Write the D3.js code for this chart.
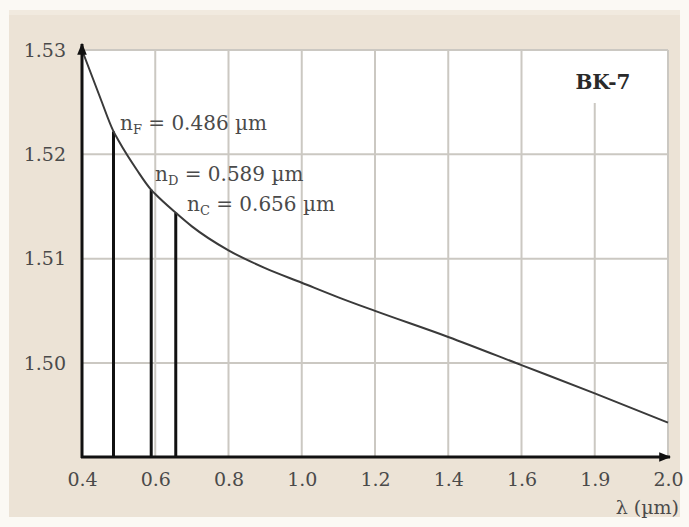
<!DOCTYPE html>
<html>
<head>
<meta charset="utf-8">
<script src="https://cdn.jsdelivr.net/npm/d3@7"></script>
<style>
  html, body { margin: 0; padding: 0; background: #fbf9f4; }
  svg { display: block; }
</style>
</head>
<body>
<svg id="chart" width="689" height="527"></svg>
<script>
// ---- data ----
const wavelengths = [0.40, 0.45, 0.486, 0.50, 0.55, 0.589, 0.60, 0.656, 0.70, 0.80, 0.90, 1.00, 1.10, 1.20, 1.40, 1.60, 1.80, 2.00];
const indices     = [1.5300, 1.5254, 1.5222, 1.5213, 1.5185, 1.5166, 1.5162, 1.5144, 1.5131, 1.5108, 1.5091, 1.5077, 1.5063, 1.5050, 1.5025, 1.4998, 1.4971, 1.4943];

const lineNames   = ["F", "D", "C"];
const lineLambdas = [0.486, 0.589, 0.656];
const lineIndices = [1.5222, 1.5166, 1.5144];
const lineLabels  = ["0.486", "0.589", "0.656"];

const xTickValues = [0.4, 0.6, 0.8, 1.0, 1.2, 1.4, 1.6, 1.8, 2.0];
const xTickLabels = ["0.4", "0.6", "0.8", "1.0", "1.2", "1.4", "1.6", "1.9", "2.0"];
const yTickValues = [1.50, 1.51, 1.52, 1.53];
const yTickLabels = ["1.50", "1.51", "1.52", "1.53"];

// ---- layout ----
const svg = d3.select("#chart");
const L = 82, R = 668, T = 50, B = 457;
const x = d3.scaleLinear().domain([0.4, 2.0]).range([L, R]);
const y = d3.scaleLinear().domain([1.491, 1.53]).range([B, T]);

const serif = "'DejaVu Serif', serif";
const textCol = "#4a4a4a";

// outer panel
svg.append("rect").attr("x", 9).attr("y", 10).attr("width", 671).attr("height", 507)
  .attr("fill", "#ece3d6");
svg.append("rect").attr("x", 9).attr("y", 10).attr("width", 671).attr("height", 5)
  .attr("fill", "#f1eadf");

// plot area
svg.append("rect").attr("x", L).attr("y", T).attr("width", R - L).attr("height", B - T)
  .attr("fill", "#ffffff");

// grid
const grid = svg.append("g").attr("stroke", "#cbc8c2").attr("stroke-width", 2);
grid.selectAll("line.v").data(xTickValues.slice(1)).join("line")
  .attr("x1", d => x(d)).attr("x2", d => x(d)).attr("y1", T).attr("y2", B);
grid.selectAll("line.h").data(yTickValues).join("line")
  .attr("x1", L).attr("x2", R).attr("y1", d => y(d)).attr("y2", d => y(d));

// white box behind BK-7
svg.append("rect").attr("x", 556).attr("y", T + 1).attr("width", 86).attr("height", 52)
  .attr("fill", "#ffffff");
svg.append("text").attr("x", 603).attr("y", 89).attr("text-anchor", "middle")
  .attr("font-family", serif).attr("font-weight", "bold").attr("font-size", 20)
  .attr("fill", "#2a2a2a").text("BK-7");

// vertical Fraunhofer lines
svg.append("g").selectAll("line").data(lineLambdas).join("line")
  .attr("x1", d => x(d)).attr("x2", d => x(d))
  .attr("y1", B).attr("y2", (d, i) => y(lineIndices[i]))
  .attr("stroke", "#111").attr("stroke-width", 3);

// curve
const pts = wavelengths.map((w, i) => [w, indices[i]]);
svg.append("path").datum(pts)
  .attr("d", d3.line().x(d => x(d[0])).y(d => y(d[1])).curve(d3.curveMonotoneX))
  .attr("fill", "none").attr("stroke", "#3a3a3a").attr("stroke-width", 2);

// annotations
const annPos = [[120, 130], [155, 181], [187, 211]];
lineNames.forEach((nm, i) => {
  const t = svg.append("text").attr("x", annPos[i][0]).attr("y", annPos[i][1])
    .attr("font-family", serif).attr("font-size", 20).attr("fill", textCol);
  t.append("tspan").text("n");
  t.append("tspan").attr("font-size", 13).attr("dy", 4).text(nm);
  t.append("tspan").attr("dy", -4).text(" = " + lineLabels[i] + " µm");
});

// axes lines with arrows
const defs = svg.append("defs");
defs.append("marker").attr("id", "arr").attr("viewBox", "0 0 10 10")
  .attr("refX", 9).attr("refY", 5).attr("markerWidth", 4).attr("markerHeight", 4)
  .attr("orient", "auto").attr("markerUnits", "strokeWidth")
  .append("path").attr("d", "M0,1 L10,5 L0,9 Z").attr("fill", "#111");

svg.append("line").attr("x1", L).attr("x2", L).attr("y1", B + 1).attr("y2", T - 6)
  .attr("stroke", "#111").attr("stroke-width", 3).attr("marker-end", "url(#arr)");
svg.append("line").attr("x1", L - 1).attr("x2", R + 2).attr("y1", B).attr("y2", B)
  .attr("stroke", "#111").attr("stroke-width", 3).attr("marker-end", "url(#arr)");

// tick labels via d3 axes
const xAxis = d3.axisBottom(x).tickValues(xTickValues).tickSize(0)
  .tickFormat((d, i) => xTickLabels[i]);
const gx = svg.append("g").attr("transform", `translate(0,${B + 12})`).call(xAxis);
gx.select(".domain").remove();
gx.selectAll("text").attr("font-family", serif).attr("font-size", 19).attr("fill", textCol);

const yAxis = d3.axisLeft(y).tickValues(yTickValues).tickSize(0)
  .tickFormat((d, i) => yTickLabels[i]);
const gy = svg.append("g").attr("transform", `translate(${L - 13},0)`).call(yAxis);
gy.select(".domain").remove();
gy.selectAll("text").attr("font-family", serif).attr("font-size", 19).attr("fill", textCol);

svg.append("text").attr("x", 679).attr("y", 514).attr("text-anchor", "end")
  .attr("font-family", serif).attr("font-size", 19).attr("fill", textCol)
  .text("λ (µm)");
</script>
</body>
</html>
